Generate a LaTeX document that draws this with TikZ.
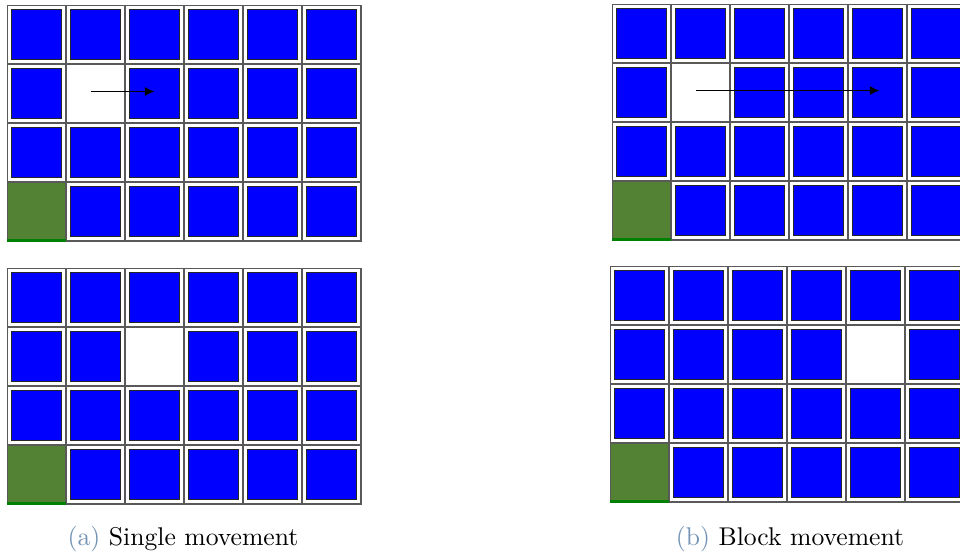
\documentclass[tikz,border=0pt]{standalone}
\usepackage{tikz}
\usetikzlibrary{arrows.meta, positioning, calc}
\definecolor{tileblue}{RGB}{0,0,255}
\definecolor{homegreen}{RGB}{84,130,53}
\definecolor{homestrip}{RGB}{0,128,0}
\definecolor{labelblue}{RGB}{117,148,181}
\tikzset{
  cellbox/.style={
    rectangle, minimum size=23pt, inner sep=0pt,
    draw=black!65, line width=0.4pt, fill=white
  },
  tilebox/.style={
    rectangle, minimum size=19.4pt, inner sep=0pt,
    draw=black!85, line width=0.38pt, fill=tileblue
  },
  homebox/.style={
    rectangle, minimum size=23pt, inner sep=0pt,
    draw=black!65, line width=0.4pt, fill=homegreen
  },
  movearrow/.style={-{Latex[length=3.8pt,width=3.6pt]}, line width=0.5pt, black},
  captext/.style={font=\normalsize, inner sep=0pt},
}
\begin{document}
\begin{tikzpicture}[x=0.39pt, y=-0.39pt]
  \useasboundingbox (0,0) rectangle (960,558);
  \clip (0,0) rectangle (960,558);
  % four boards: name / left / top / column of the free cell (row 1)
  \foreach \g/\gx/\gy/\ec in {sa/7/5/1, sb/7/268/2, ba/612/4/1, bb/610/266/4}{
    \foreach \r in {0,...,3}{
      \foreach \c in {0,...,5}{
        \ifnum\r=3 \ifnum\c=0
          \node[homebox] (\g-\r-\c) at (\gx+59*\c+29.5, \gy+59*\r+29.5) {};
          \fill[homestrip] (\g-\r-\c.south west) rectangle ++(59,-3);
        \else
          \node[cellbox] (\g-\r-\c) at (\gx+59*\c+29.5, \gy+59*\r+29.5) {};
          \node[tilebox] (\g-\r-\c-in) at (\g-\r-\c) {};
        \fi
        \else
          \node[cellbox] (\g-\r-\c) at (\gx+59*\c+29.5, \gy+59*\r+29.5) {};
          \ifnum\r=1 \ifnum\c=\ec \else
            \node[tilebox] (\g-\r-\c-in) at (\g-\r-\c) {};
          \fi
          \else
            \node[tilebox] (\g-\r-\c-in) at (\g-\r-\c) {};
          \fi
        \fi
      }
    }
  }
  % moves
  \coordinate (sfrom) at ($(sa-1-1)+(-5,-2)$);
  \coordinate (sto) at ($(sa-1-2)+(0,-2)$);
  \draw[movearrow] (sfrom) -- (sto);
  \coordinate (bfrom) at ($(ba-1-1)+(-5,-2)$);
  \coordinate (bto) at ($(ba-1-4)+(2,-2)$);
  \draw[movearrow] (bfrom) -- (bto);
  % captions
  \node[captext] (capa) at (183,539) {\textcolor{labelblue}{(a)} Single movement};
  \node[captext] (capb) at (790,539) {\textcolor{labelblue}{(b)} Block movement};
\end{tikzpicture}
\end{document}
